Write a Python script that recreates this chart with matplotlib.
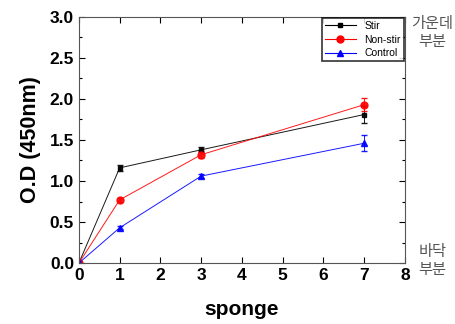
import matplotlib.pyplot as plt
from matplotlib.ticker import MultipleLocator
from matplotlib.lines import Line2D

# data
x = [0, 1, 3, 7]
stir = [0.0, 1.16, 1.38, 1.81]
stir_err = [0.0, 0.04, 0.03, 0.10]
nonstir = [0.0, 0.77, 1.32, 1.93]
nonstir_err = [0.0, 0.02, 0.04, 0.08]
control = [0.0, 0.43, 1.06, 1.46]
control_err = [0.0, 0.02, 0.02, 0.10]
labels = ['Stir', 'Non-stir', 'Control']

plt.rcParams['font.family'] = ['Liberation Sans', 'Noto Sans CJK KR', 'DejaVu Sans']

fig = plt.figure(figsize=(4.56, 3.24), dpi=100)
ax = fig.add_axes([0.173, 0.188, 0.715, 0.76])

styles = [('black', 's', 3.5), ('red', 'o', 5), ('blue', '^', 5)]
handles = []
for ys, es, lab, (c, m, ms) in zip([stir, nonstir, control],
                                   [stir_err, nonstir_err, control_err],
                                   labels, styles):
    ax.errorbar(x, ys, yerr=es, color=c, marker=m, markersize=ms,
                linewidth=0.7, capsize=2, elinewidth=0.7, alpha=0.9)
    handles.append(Line2D([], [], color=c, marker=m, markersize=ms, linewidth=0.8, label=lab))

ax.set_xlim(0, 8)
ax.set_ylim(0, 3.0)
ax.xaxis.set_major_locator(MultipleLocator(1))
ax.yaxis.set_major_locator(MultipleLocator(0.5))
ax.yaxis.set_minor_locator(MultipleLocator(0.25))
ax.tick_params(which='both', direction='in', top=True, right=True, labelsize=12.5, width=0.8)
ax.tick_params(which='major', length=4)
ax.tick_params(which='minor', length=2)
for lab in ax.get_xticklabels() + ax.get_yticklabels():
    lab.set_fontweight('bold')
for s in ax.spines.values():
    s.set_color('#555555')
    s.set_linewidth(0.8)

ax.set_xlabel('sponge', fontsize=15, fontweight='bold', labelpad=12)
ax.set_ylabel('O.D (450nm)', fontsize=15.5, fontweight='bold', labelpad=6)

leg = ax.legend(handles=handles, loc='upper right', fontsize=7.5, frameon=True,
                fancybox=False, borderaxespad=0.1, handlelength=3.0,
                labelspacing=0.35, borderpad=0.3)
leg.get_frame().set_edgecolor('black')
leg.get_frame().set_linewidth(1.2)

fig.text(0.948, 0.9, '가운데\n부분', ha='center', va='center', fontsize=11,
         color='#555555', family=['Noto Sans CJK KR'], linespacing=1.1)
fig.text(0.948, 0.196, '바닥\n부분', ha='center', va='center', fontsize=11,
         color='#555555', family=['Noto Sans CJK KR'], linespacing=1.1)

fig.savefig('out.png', dpi=100)
